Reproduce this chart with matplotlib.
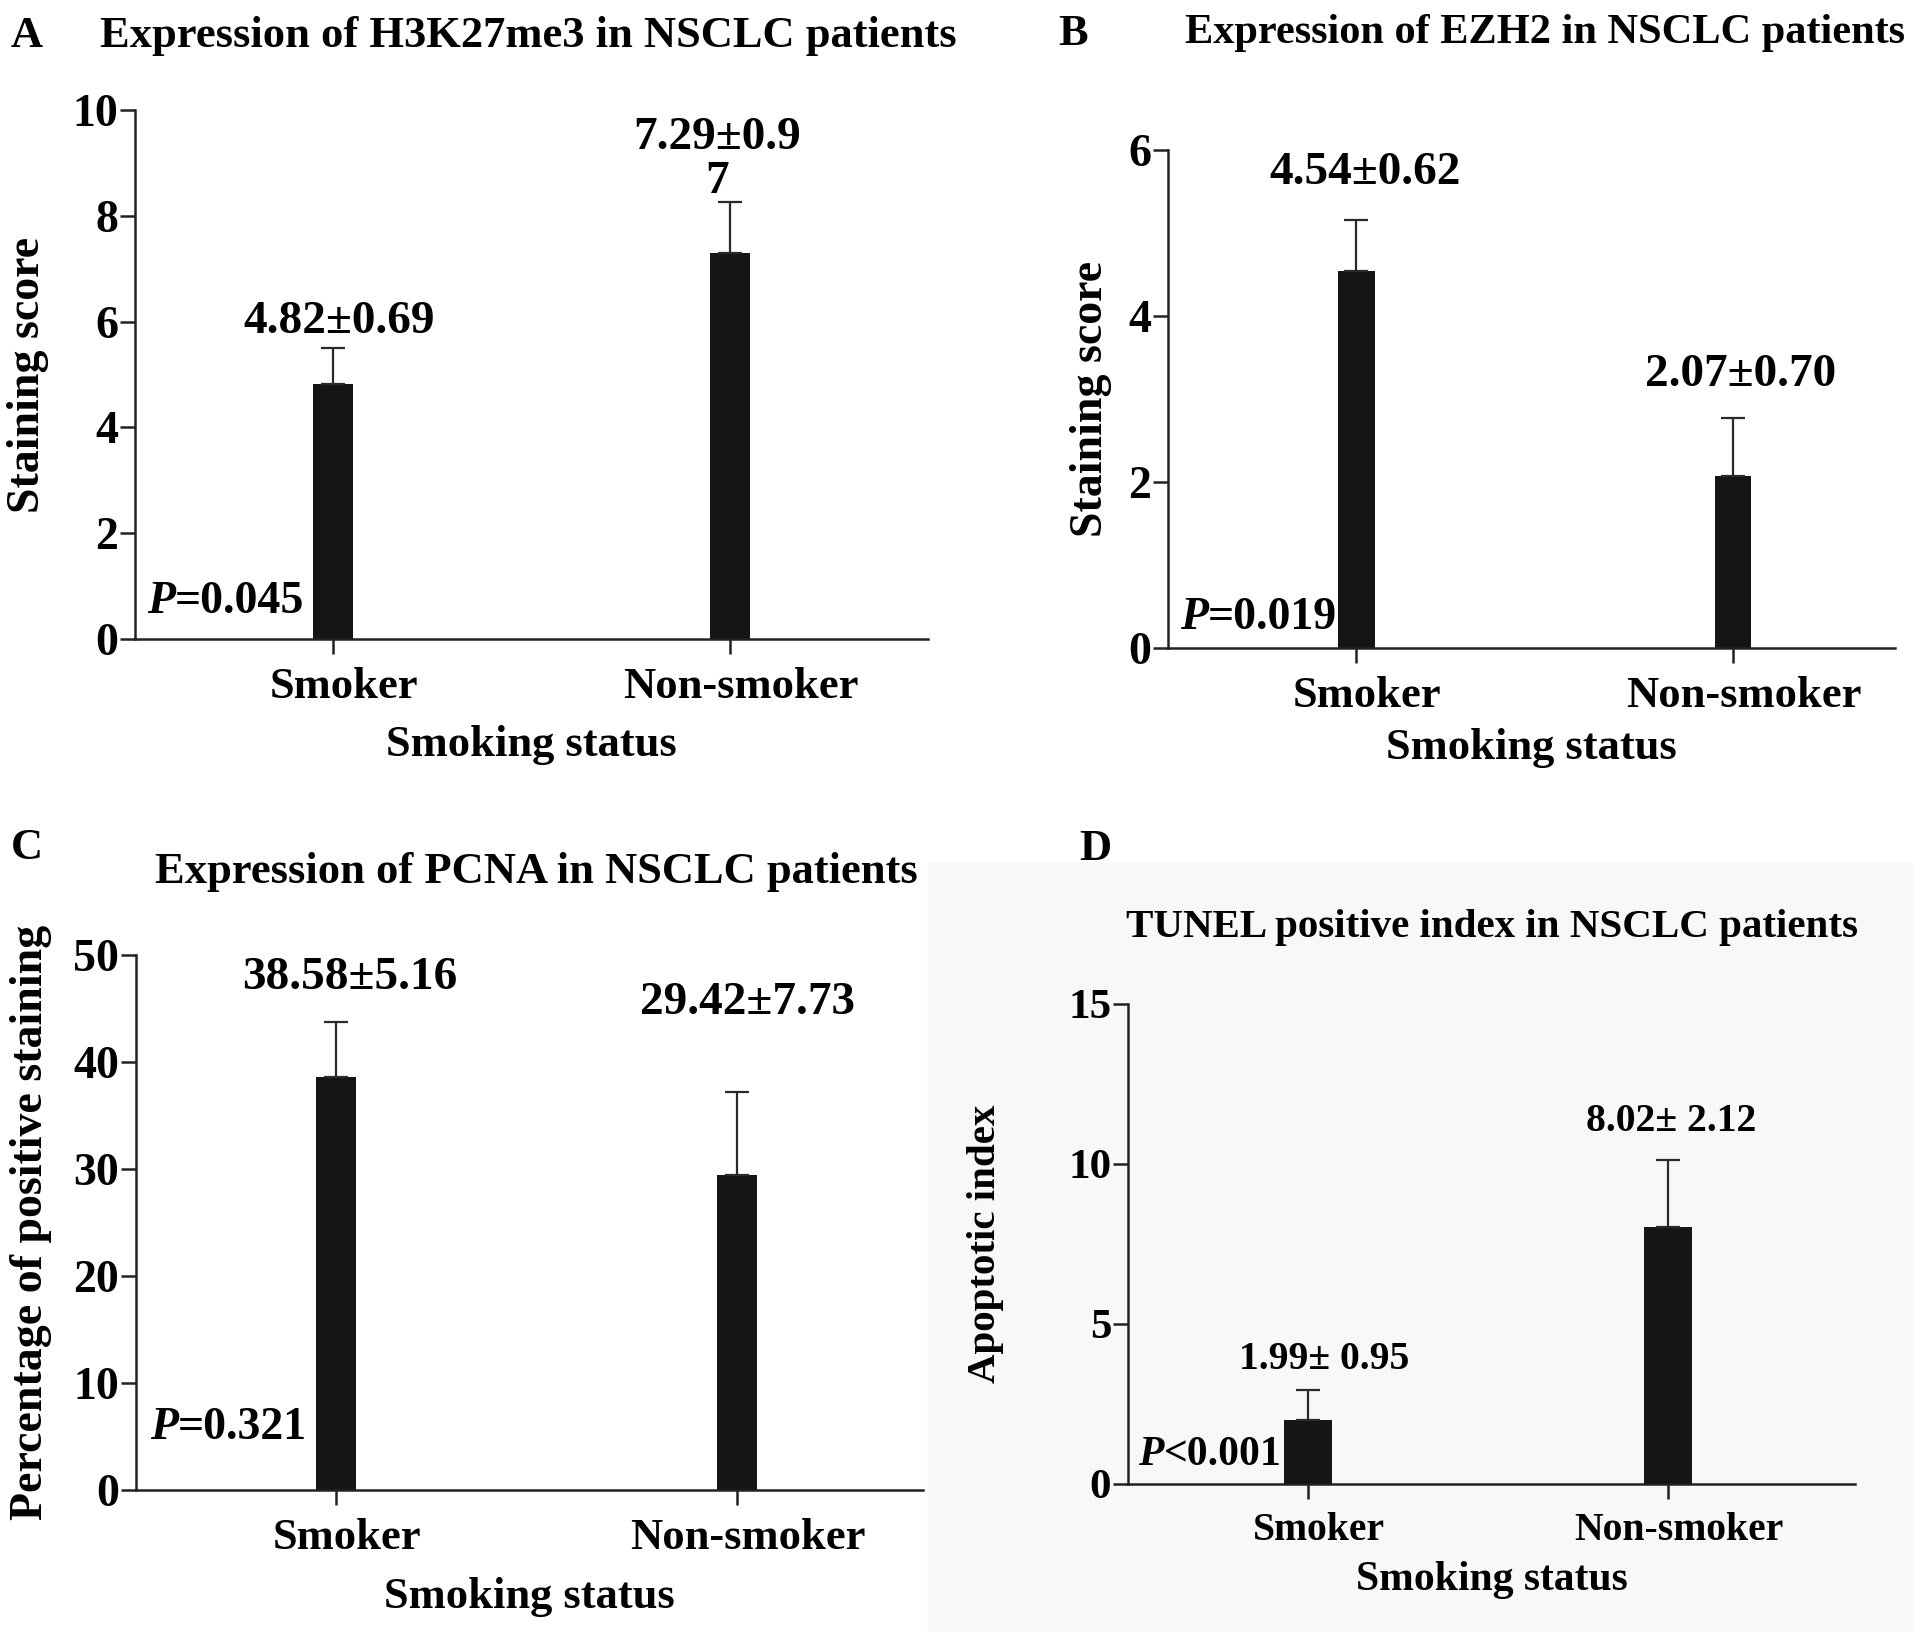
import matplotlib
matplotlib.use('Agg')
import matplotlib.pyplot as plt
import matplotlib.transforms as mtransforms
from matplotlib.patches import Rectangle

# --- data ---
groups = ["Smoker", "Non-smoker"]

h3k27_mean = [4.82, 7.29]
h3k27_sd = [0.69, 0.97]
ezh2_mean = [4.54, 2.07]
ezh2_sd = [0.62, 0.70]
pcna_mean = [38.58, 29.42]
pcna_sd = [5.16, 7.73]
tunel_mean = [1.99, 8.02]
tunel_sd = [0.95, 2.12]

h3k27_labels = ["4.82\u00b10.69", "7.29\u00b10.9\n7"]
ezh2_labels = ["4.54\u00b10.62", "2.07\u00b10.70"]
pcna_labels = ["38.58\u00b15.16", "29.42\u00b17.73"]
tunel_labels = ["1.99\u00b1 0.95", "8.02\u00b1 2.12"]

p_values = ["=0.045", "=0.019", "=0.321", "<0.001"]

plt.rcParams['font.family'] = ['Liberation Serif', 'DejaVu Serif']
plt.rcParams['font.weight'] = 'bold'

INK = '#151515'
W, H = 1913, 1632
fig = plt.figure(figsize=(W / 100, H / 100), dpi=100)
fig.patch.set_facecolor('white')

# light grey backdrop behind panel D (scanned figure)
fig.patches.append(Rectangle((928 / W, 0), 1 - 928 / W, (H - 863) / H,
                             transform=fig.transFigure, color='#f8f8f8',
                             zorder=-5))

BIG = dict(value=34, xtick=32, ytick=33, xlabel=32, ylabel=33, p=33)
SMALL = dict(value=28.5, xtick=28.5, ytick=31, xlabel=30, ylabel=29.5, p=30)

# category labels sit a little right of their ticks in the original
label_shift = mtransforms.ScaledTranslation(0.11, 0, fig.dpi_scale_trans)


def px_axes(l, r, t, b):
    # pixel box (from top-left) -> axes
    ax = fig.add_axes([l / W, 1 - b / H, (r - l) / W, (b - t) / H])
    ax.set_facecolor('none')
    ax.set_zorder(2)
    return ax


def draw_panel(ax, means, sds, labels, ylim, yticks, ylabel, xmax, width,
               label_off, pval, p_pos, ylab_x, sz=BIG):
    x = list(range(len(means)))
    ax.bar(x, means, width=width, color=INK, zorder=2)
    ax.errorbar(x, means, yerr=[[0] * len(sds), sds], fmt='none',
                ecolor='#2a2a2a', elinewidth=1.6, capsize=8.5, capthick=1.6,
                zorder=3)
    for i, (m, s, lab) in enumerate(zip(means, sds, labels)):
        dx, dy = label_off[i]
        ax.annotate(lab, (i, m + s), xytext=(dx, dy), textcoords='offset pixels',
                    ha='center', va='center', fontsize=sz['value'],
                    fontweight='bold', linespacing=1.05)

    ax.set_xlim(-0.5, xmax)
    ax.set_ylim(*ylim)
    ax.set_yticks(yticks)
    ax.set_xticks(x)
    ax.set_xticklabels(groups)
    for sp in ('top', 'right'):
        ax.spines[sp].set_visible(False)
    for sp in ('left', 'bottom'):
        ax.spines[sp].set_linewidth(1.8)
        ax.spines[sp].set_color('#222222')
    ax.tick_params(axis='both', direction='out', length=11, width=1.8,
                   color='#222222')
    ax.tick_params(axis='y', labelsize=sz['ytick'], pad=1)
    ax.tick_params(axis='x', labelsize=sz['xtick'], pad=9)
    for t in ax.get_xticklabels() + ax.get_yticklabels():
        t.set_fontweight('bold')
    for t in ax.get_xticklabels():
        t.set_transform(t.get_transform() + label_shift)

    ax.set_xlabel("Smoking status", fontsize=sz['xlabel'], fontweight='bold')
    ax.xaxis.set_label_coords(0.5, -0.2)
    ax.xaxis.label.set_verticalalignment('center')
    ax.set_ylabel(ylabel, fontsize=sz['ylabel'], fontweight='bold')
    ax.yaxis.set_label_coords(ylab_x, 0.5)
    ax.yaxis.label.set_verticalalignment('center')

    # P value: italic P followed by upright text
    pt = ax.text(p_pos[0], p_pos[1], "P", transform=ax.transAxes,
                 ha='left', va='center', fontsize=sz['p'], fontweight='bold',
                 style='italic')
    ax.annotate(pval, xy=(1, 0), xycoords=pt, ha='left', va='bottom',
                fontsize=sz['p'], fontweight='bold')


# A
axA = px_axes(135, 928, 110, 639)
draw_panel(axA, h3k27_mean, h3k27_sd, h3k27_labels, (0, 10), range(0, 11, 2),
           "Staining score", 1.5, 0.101, [(6, 26), (-13, 42)],
           p_values[0], (0.015, 0.07), -0.135)

# B
axB = px_axes(1168, 1895, 150, 648)
draw_panel(axB, ezh2_mean, ezh2_sd, ezh2_labels, (0, 6), range(0, 7, 2),
           "Staining score", 1.43, 0.097, [(9, 47), (8, 43)],
           p_values[1], (0.0165, 0.06), -0.106)

# C
axC = px_axes(136, 923, 955, 1490)
draw_panel(axC, pcna_mean, pcna_sd, pcna_labels, (0, 50), range(0, 51, 10),
           "Percentage of positive staining", 1.464, 0.1, [(13, 44), (10, 89)],
           p_values[2], (0.018, 0.116), -0.133)

# D
axD = px_axes(1128, 1855, 1004, 1484)
draw_panel(axD, tunel_mean, tunel_sd, tunel_labels, (0, 15), range(0, 16, 5),
           "Apoptotic index", 1.52, 0.133, [(16, 30), (3, 38)],
           p_values[3], (0.014, 0.06), -0.196, sz=SMALL)

# titles and panel letters (pixel positions from the figure)
titles = [
    ("A", 27, 36, "Expression of H3K27me3 in NSCLC patients", 528, 36, 32),
    ("B", 1073, 34, "Expression of EZH2 in NSCLC patients", 1545, 33, 30.5),
    ("C", 27, 848, "Expression of PCNA in NSCLC patients", 536, 872, 32),
    ("D", 1095, 849, "TUNEL positive index in NSCLC patients", 1492, 927, 29.5),
]
for letter, lx, ly, title, tx, ty, fs in titles:
    fig.text(lx / W, 1 - ly / H, letter, ha='center', va='center',
             fontsize=32, fontweight='bold')
    fig.text(tx / W, 1 - ty / H, title, ha='center', va='center',
             fontsize=fs, fontweight='bold')

fig.savefig("out.png", dpi=100)
